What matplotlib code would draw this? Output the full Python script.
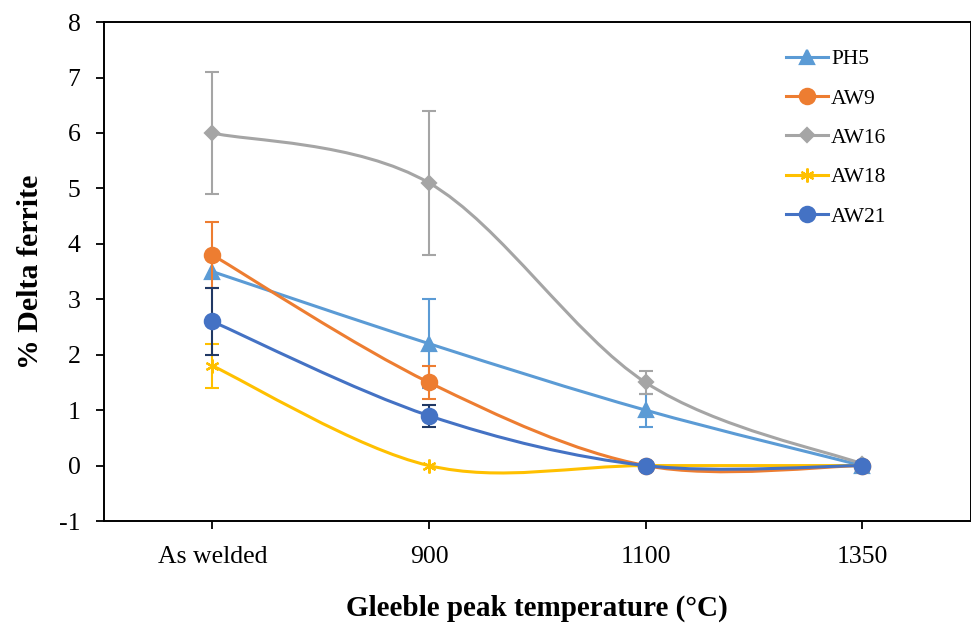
import numpy as np
import matplotlib
matplotlib.use('Agg')
import matplotlib.pyplot as plt
from matplotlib.path import Path
from matplotlib.patches import PathPatch
from matplotlib.lines import Line2D

plt.rcParams['font.family'] = ['Liberation Serif', 'DejaVu Serif']
plt.rcParams['axes.unicode_minus'] = False

categories = ['As welded', '900', '1100', '1350']
series_names = ['PH5', 'AW9', 'AW16', 'AW18', 'AW21']

ph5 = [3.5, 2.2, 1.0, 0.0]
aw9 = [3.8, 1.5, 0.0, 0.0]
aw16 = [6.0, 5.1, 1.5, 0.03]
aw18 = [1.8, 0.0, 0.0, 0.0]
aw21 = [2.6, 0.9, 0.0, 0.0]

ph5_err = [0.0, 0.8, 0.3, 0.0]
aw9_err = [0.6, 0.3, 0.0, 0.0]
aw16_err = [1.1, 1.3, 0.2, 0.0]
aw18_err = [0.4, 0.0, 0.0, 0.0]
aw21_err = [0.6, 0.2, 0.0, 0.0]

colors = ['#5B9BD5', '#ED7D31', '#A5A5A5', '#FFC000', '#4472C4']
err_colors = ['#5B9BD5', '#ED7D31', '#A5A5A5', '#FFC000', '#203864']
markers = ['^', 'o', 'D', (6, 2, 0), 'o']
msizes = [10, 11, 7.5, 10, 11]

values = [ph5, aw9, aw16, aw18, aw21]
errors = [ph5_err, aw9_err, aw16_err, aw18_err, aw21_err]


def smooth_path(xs, ys):
    # excel-like smoothed line: cubic bezier through the points
    p = np.column_stack([xs, ys]).astype(float)
    n = len(p)
    verts = [p[0]]
    codes = [Path.MOVETO]
    for i in range(n - 1):
        p0 = p[i - 1] if i > 0 else p[i]
        p3 = p[i + 2] if i + 2 < n else p[i + 1]
        c1 = p[i] + (p[i + 1] - p0) / 6
        c2 = p[i + 1] - (p3 - p[i]) / 6
        verts += [c1, c2, p[i + 1]]
        codes += [Path.CURVE4] * 3
    return Path(verts, codes)


fig = plt.figure(figsize=(9.71, 6.26), dpi=100)
ax = fig.add_axes([0.1071, 0.1677, 0.8924, 0.797])

x = np.arange(len(categories))
handles = []
for k, name in enumerate(series_names):
    y = np.array(values[k])
    e = np.array(errors[k])
    patch = PathPatch(smooth_path(x, y), fill=False, edgecolor=colors[k],
                      lw=2.2, zorder=2 + k * 0.1, capstyle='round')
    ax.add_patch(patch)
    m = e > 0
    if m.any():
        ax.errorbar(x[m], y[m], yerr=e[m], fmt='none', ecolor=err_colors[k],
                    elinewidth=1.5, capsize=5, capthick=1.5, zorder=2.05 + k * 0.1)
    ax.plot(x, y, ls='none', marker=markers[k], ms=msizes[k], color=colors[k],
            mec=colors[k], mew=1.6, zorder=2.08 + k * 0.1)
    handles.append(Line2D([], [], color=colors[k], lw=2.2, marker=markers[k],
                          ms=msizes[k], mew=1.6, label=name))

ax.set_xlim(-0.5, 3.5)
ax.set_ylim(-1, 8)
ax.set_xticks(x)
ax.set_xticklabels(categories)
ax.set_yticks(range(-1, 9))
ax.tick_params(axis='both', direction='out', length=6, width=1.3,
               labelsize=18.5, colors='black')
ax.tick_params(axis='y', pad=11)
ax.tick_params(axis='x', pad=12)
for sp in ax.spines.values():
    sp.set_linewidth(1.4)
    sp.set_color('black')

ax.set_xlabel('Gleeble peak temperature (°C)', fontsize=21, fontweight='bold',
              labelpad=19)
ax.set_ylabel('% Delta ferrite', fontsize=21.5, fontweight='bold', labelpad=11)

ax.legend(handles=handles, loc='upper left', bbox_to_anchor=(0.787, 0.946),
          frameon=False, fontsize=15.5, handlelength=1.95, handletextpad=0.15,
          labelspacing=0.9, borderpad=0, borderaxespad=0)

fig.savefig('out.png', dpi=100)
